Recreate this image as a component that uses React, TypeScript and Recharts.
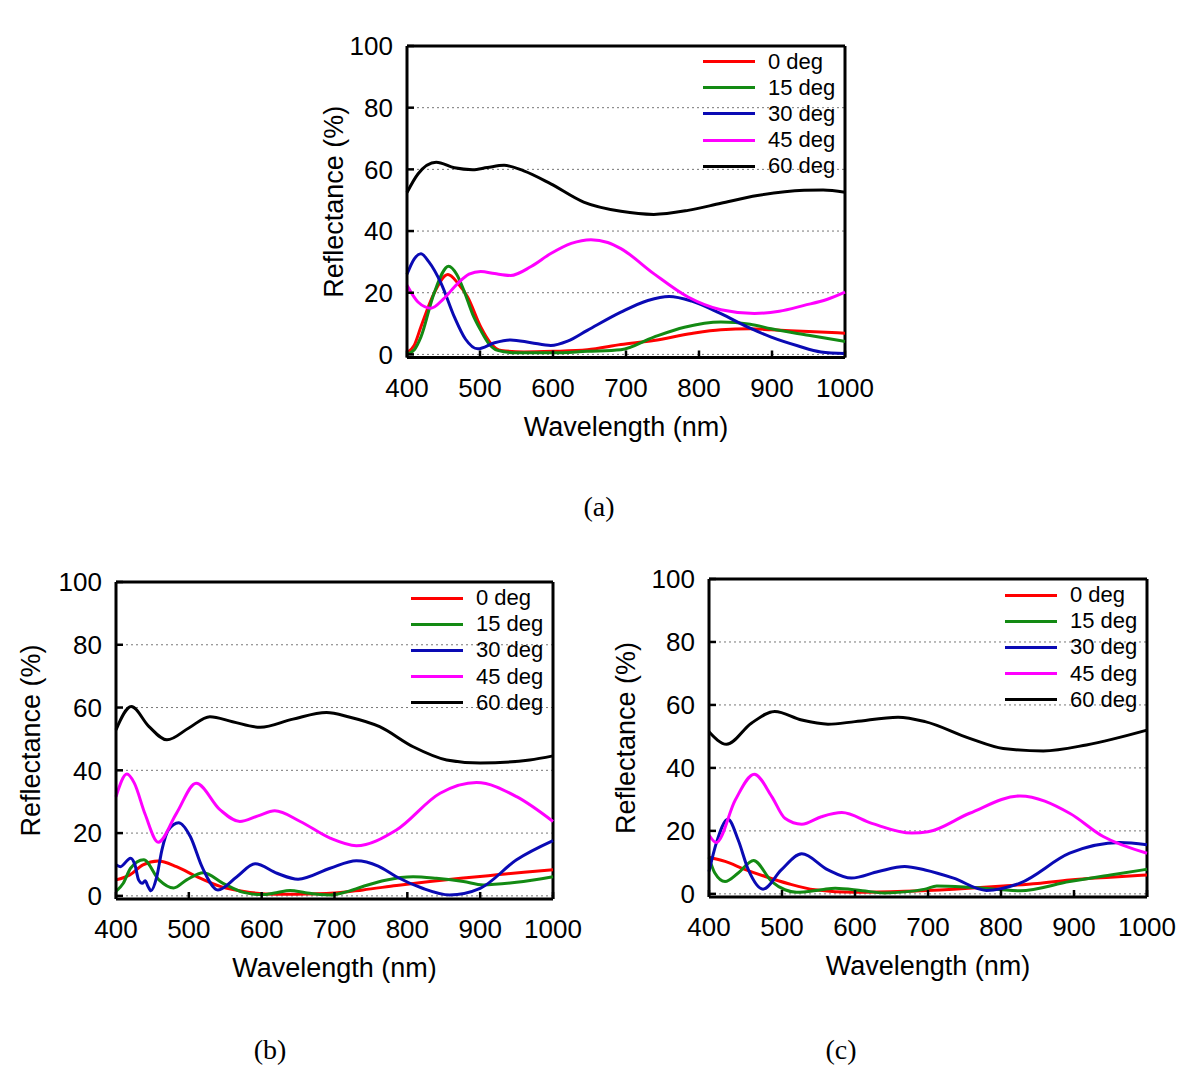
import React from 'react';
import { LineChart, Line, XAxis, YAxis, CartesianGrid, ReferenceLine, Legend } from 'recharts';

type Pt = [number, number];

const wavelengthTicks = [400, 500, 600, 700, 800, 900, 1000];
const reflectanceTicks = [0, 20, 40, 60, 80, 100];
const seriesNames = ['0 deg', '15 deg', '30 deg', '45 deg', '60 deg'];
const seriesColors = ['#ff0000', '#138a13', '#0a0ab4', '#ff00ff', '#000000'];

// panel (a)
const a0: Pt[] = [[400, 0.5], [410, 3], [419, 8.9], [437, 19.8], [456, 25.9], [470, 23], [483, 18.6], [501, 8.9], [515, 3.5], [529, 1.3], [560, 0.8], [600, 1], [647, 1.5], [693, 3.2], [738, 4.5], [790, 6.8], [830, 8], [870, 8.3], [899, 8], [950, 7.4], [1000, 6.9]];
const a15: Pt[] = [[400, 0], [410, 1.5], [419, 5.6], [437, 19.8], [457, 28.6], [468, 26], [478, 20.7], [490, 13], [501, 7.8], [512, 3.5], [524, 1.3], [550, 0.5], [600, 0.5], [647, 1], [693, 1.5], [738, 5.6], [780, 8.8], [830, 10.5], [870, 9.8], [899, 8.3], [950, 6.2], [1000, 4.2]];
const a30: Pt[] = [[400, 26], [410, 31], [419, 32.6], [430, 30], [447, 22.9], [465, 12.1], [480, 5], [497, 1.8], [520, 3.8], [542, 4.7], [570, 3.8], [597, 2.9], [620, 4.3], [647, 7.8], [693, 13.7], [730, 17.5], [759, 18.8], [790, 17.3], [830, 13.2], [870, 8.5], [899, 5.6], [935, 2.8], [967, 0.8], [1000, 0.3]];
const a45: Pt[] = [[400, 22.4], [415, 17], [433, 15], [450, 18], [469, 22.9], [485, 26], [501, 26.9], [520, 26.2], [542, 25.6], [570, 28.5], [597, 32.7], [625, 36], [652, 37.2], [675, 36.3], [693, 34.3], [738, 26.2], [785, 18.6], [830, 14.5], [876, 13.3], [910, 14], [944, 15.9], [975, 17.8], [1000, 20.2]];
const a60: Pt[] = [[400, 52.5], [415, 58.5], [440, 62.3], [465, 60.5], [490, 59.9], [510, 60.6], [533, 61.3], [560, 59.5], [597, 55.3], [642, 49.4], [693, 46.4], [738, 45.4], [785, 46.7], [830, 49], [880, 51.5], [944, 53.2], [970, 53.3], [1000, 52.6]];

// panel (b)
const b0: Pt[] = [[400, 5.1], [419, 6.7], [437, 9.9], [458, 11.1], [483, 9.3], [511, 6.1], [543, 3], [584, 1.1], [620, 0.5], [660, 0.6], [694, 0.8], [739, 1.9], [785, 3.3], [831, 4.6], [877, 5.7], [923, 6.7], [960, 7.5], [1000, 8.3]];
const b15: Pt[] = [[400, 1.4], [410, 4], [420, 8.8], [438, 11.5], [459, 5.1], [479, 2.5], [497, 5.1], [520, 7.4], [547, 4], [575, 1.1], [600, 0.4], [620, 1], [639, 1.7], [660, 1], [680, 0.4], [694, 0.3], [715, 1.2], [739, 3], [770, 5], [808, 6.1], [840, 5.6], [877, 4.6], [904, 3.5], [950, 4.3], [1000, 6.1]];
const b30: Pt[] = [[400, 9.9], [406, 9.3], [420, 12], [426, 9.9], [431, 5.1], [436, 4], [440, 4.8], [444, 3], [448, 1.6], [456, 6.1], [463, 14.6], [472, 21], [486, 23.3], [502, 18.9], [518, 9.3], [540, 1.9], [566, 6.1], [591, 10.2], [621, 7.2], [650, 5.3], [694, 8.8], [730, 11.2], [760, 9.5], [785, 6.1], [820, 2.5], [858, 0.3], [900, 2.4], [950, 11.5], [1000, 17.6]];
const b45: Pt[] = [[400, 31.6], [415, 38.8], [425, 36], [440, 26], [458, 17.1], [483, 26.3], [510, 35.9], [543, 27.4], [570, 23.7], [595, 25.5], [618, 27.1], [653, 23.7], [694, 18.4], [730, 16], [785, 21], [845, 32.7], [895, 36.1], [950, 31.6], [1000, 23.7]];
const b60: Pt[] = [[400, 52.9], [421, 60.3], [445, 54], [470, 49.7], [500, 53.5], [529, 57.1], [560, 55.5], [598, 53.7], [643, 56.3], [689, 58.4], [720, 57], [762, 53.9], [808, 47.5], [854, 43.3], [900, 42.3], [968, 43.3], [1000, 44.6]];

// panel (c)
const c0: Pt[] = [[400, 11.6], [422, 10.3], [449, 7.8], [477, 5.5], [509, 3.2], [545, 1.3], [600, 0.5], [668, 0.8], [735, 1.5], [803, 2.5], [850, 3.3], [894, 4.4], [950, 5.3], [1000, 6]];
const c15: Pt[] = [[400, 11.6], [408, 6.6], [422, 3.9], [440, 6.6], [461, 10.6], [486, 3.9], [504, 1.3], [520, 0.5], [554, 1.3], [573, 1.8], [610, 1], [640, 0.3], [696, 1.5], [712, 2.5], [757, 2.1], [826, 1], [894, 3.9], [950, 6], [1000, 7.8]];
const c30: Pt[] = [[400, 7.1], [410, 16.1], [426, 23.7], [440, 17.1], [454, 7.6], [474, 1.5], [499, 7.6], [527, 12.7], [563, 7.6], [595, 5], [632, 7.1], [668, 8.7], [696, 7.6], [735, 5], [780, 1.1], [826, 3.4], [894, 12.9], [963, 16.3], [1000, 15.6]];
const c45: Pt[] = [[400, 18.7], [410, 16.3], [436, 29.8], [462, 38], [486, 30.9], [504, 24], [527, 22.1], [554, 24.5], [582, 25.8], [623, 22.4], [678, 19.3], [700, 19.7], [757, 25.6], [826, 31.1], [894, 25.6], [940, 18.2], [1000, 12.9]];
const c60: Pt[] = [[400, 51.5], [424, 47.5], [458, 54.2], [490, 57.9], [527, 55.2], [563, 53.9], [600, 54.7], [659, 56.1], [696, 54.7], [757, 49.4], [803, 46.2], [858, 45.4], [917, 47.3], [1000, 52]];

const FONT = '"Liberation Sans", Arial, sans-serif';
const Y_W = 110;
const M_TOP = 20;
const M_RIGHT = 40;
const X_H = 90;

const renderLegend = (props: any) => (
  <div style={{ fontFamily: FONT }}>
    {(props.payload || []).map((e: any) => (
      <div key={e.value} style={{ display: 'flex', alignItems: 'center', height: 26.2 }}>
        <span style={{ display: 'inline-block', width: 52, height: 3, background: e.color }} />
        <span style={{ marginLeft: 13, fontSize: 22, lineHeight: '26px', color: '#000' }}>{e.value}</span>
      </div>
    ))}
  </div>
);

type PanelProps = {
  series: Pt[][];
  left: number; // plot area left, page px
  top: number;
  plotW: number;
  plotH: number;
  yLabelOffset: number;
};

const Panel = ({ series, left, top, plotW, plotH, yLabelOffset }: PanelProps) => {
  const width = Y_W + plotW + M_RIGHT;
  const height = M_TOP + plotH + X_H;
  return (
    <div style={{ position: 'absolute', left: left - Y_W, top: top - M_TOP }}>
      <LineChart width={width} height={height} margin={{ top: M_TOP, right: M_RIGHT, left: 0, bottom: 0 }}>
        <CartesianGrid vertical={false} stroke="#777" strokeDasharray="2 3" />
        <XAxis
          dataKey="x"
          type="number"
          domain={[400, 1000]}
          ticks={wavelengthTicks}
          interval={0}
          height={X_H}
          allowDuplicatedCategory={false}
          axisLine={{ stroke: '#000', strokeWidth: 3 }}
          tickLine={{ stroke: '#000', strokeWidth: 2.5 }}
          tickSize={-7}
          tickMargin={28}
          tick={{ fill: '#000', fontSize: 26, fontFamily: FONT }}
          label={{ value: 'Wavelength (nm)', position: 'insideBottom', offset: 12, style: { fill: '#000', fontSize: 27, fontFamily: FONT } }}
        />
        <YAxis
          type="number"
          domain={[-1, 100]}
          ticks={reflectanceTicks}
          interval={0}
          width={Y_W}
          axisLine={{ stroke: '#000', strokeWidth: 3 }}
          tickLine={{ stroke: '#000', strokeWidth: 2.5 }}
          tickSize={-7}
          tickMargin={21}
          tick={{ fill: '#000', fontSize: 26, fontFamily: FONT }}
          label={{ value: 'Reflectance (%)', angle: -90, position: 'insideLeft', offset: yLabelOffset, style: { textAnchor: 'middle', fill: '#000', fontSize: 27, fontFamily: FONT } }}
        />
        <ReferenceLine y={100} stroke="#000" strokeWidth={3} />
        <ReferenceLine x={1000} stroke="#000" strokeWidth={3} />
        <Legend
          layout="vertical"
          align="center"
          verticalAlign="middle"
          content={renderLegend}
          wrapperStyle={{ left: Y_W + plotW - 142, top: M_TOP + 3, width: 140, height: 135 }}
        />
        {series.map((pts, i) => (
          <Line
            key={seriesNames[i]}
            name={seriesNames[i]}
            data={pts.map(([x, y]) => ({ x, y }))}
            dataKey="y"
            type="monotone"
            stroke={seriesColors[i]}
            strokeWidth={3}
            dot={false}
            activeDot={false}
            isAnimationActive={false}
          />
        ))}
      </LineChart>
    </div>
  );
};

const captionStyle: React.CSSProperties = {
  position: 'absolute',
  transform: 'translate(-50%, -50%)',
  fontFamily: '"Liberation Serif", "Times New Roman", serif',
  fontSize: 28,
  color: '#000',
};

export default function App() {
  return (
    <div style={{ position: 'absolute', left: 0, top: 0, width: 1200, height: 1087, background: '#fff' }}>
      <Panel series={[a0, a15, a30, a45, a60]} left={407} top={45.5} plotW={438} plotH={311.5} yLabelOffset={36} />
      <Panel series={[b0, b15, b30, b45, b60]} left={116} top={582} plotW={437} plotH={317} yLabelOffset={24} />
      <Panel series={[c0, c15, c30, c45, c60]} left={709} top={579} plotW={438} plotH={318} yLabelOffset={26} />
      <div style={{ ...captionStyle, left: 599, top: 507 }}>(a)</div>
      <div style={{ ...captionStyle, left: 270, top: 1050 }}>(b)</div>
      <div style={{ ...captionStyle, left: 841, top: 1050 }}>(c)</div>
    </div>
  );
}
